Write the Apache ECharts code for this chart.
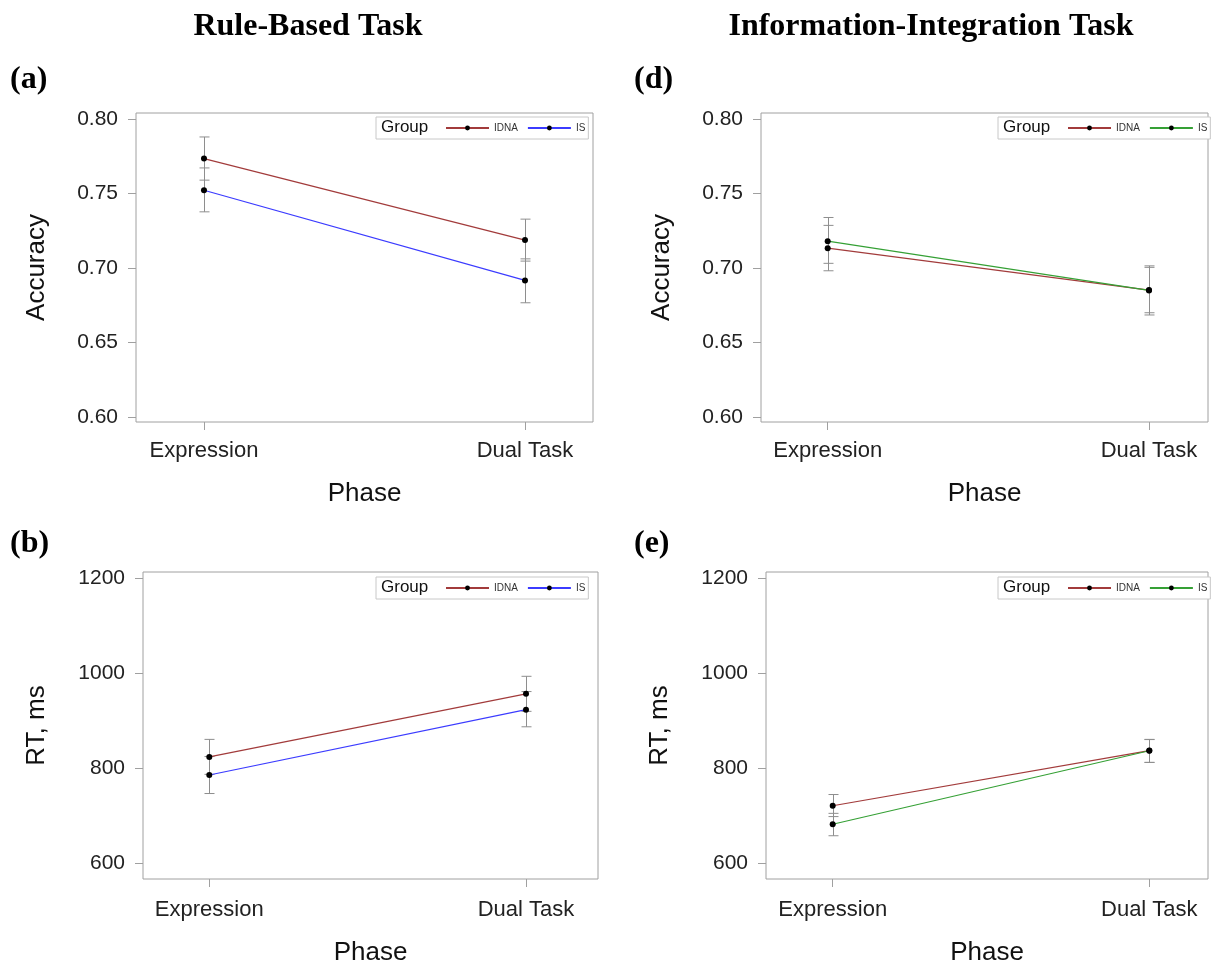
<!DOCTYPE html>
<html>
<head>
<meta charset="utf-8">
<script src="https://cdn.jsdelivr.net/npm/echarts@6/dist/echarts.min.js"></script>
<style>
html,body{margin:0;padding:0;background:#fff;}
#c{width:1214px;height:967px;}
</style>
</head>
<body>
<div id="c"></div>
<script>
// ---- Data ----
const phases = ['Expression', 'Dual Task'];
const groups = ['IDNA', 'IS'];
const accTicks = [0.60, 0.65, 0.70, 0.75, 0.80];
const rtTicks = [600, 800, 1000, 1200];

// (a) Rule-Based accuracy
const rbAccIDNA = [0.7736, 0.7188];
const rbAccIDNALo = [0.7591, 0.7047];
const rbAccIDNAHi = [0.7881, 0.7329];
const rbAccIS = [0.7523, 0.6917];
const rbAccISLo = [0.7378, 0.6767];
const rbAccISHi = [0.7673, 0.7062];

// (d) Information-Integration accuracy
const iiAccIDNA = [0.7134, 0.6852];
const iiAccIDNALo = [0.6982, 0.6700];
const iiAccIDNAHi = [0.7287, 0.7005];
const iiAccIS = [0.7181, 0.6850];
const iiAccISLo = [0.7032, 0.6685];
const iiAccISHi = [0.7340, 0.7015];

// (b) Rule-Based RT
const rbRtIDNA = [823.6, 956.3];
const rbRtIDNALo = [786.8, 919.4];
const rbRtIDNAHi = [860.4, 993.1];
const rbRtIS = [785.4, 922.9];
const rbRtISLo = [746.5, 886.9];
const rbRtISHi = [824.3, 961.0];

// (e) Information-Integration RT
const iiRtIDNA = [720.8, 836.9];
const iiRtIDNALo = [698.0, 812.0];
const iiRtIDNAHi = [744.4, 860.4];
const iiRtIS = [681.9, 836.5];
const iiRtISLo = [657.7, 811.9];
const iiRtISHi = [704.8, 860.0];

// ---- Build ----
const FONT = '"Liberation Sans", Arial, sans-serif';
const SERIF = '"Liberation Serif", "Times New Roman", serif';
const COL = {IDNA: '#A23B3B', ISb: '#3B3BFF', ISg: '#35A035'};
const FRAME = '#A0A0A0';

const panels = [
  {key:'a', grid:{left:136, top:113, width:457, height:309}, xmin:-0.2118, xmax:1.2118, ymin:0.5966, ymax:0.8042, ticks:accTicks, yname:'Accuracy', fmt:v=>v.toFixed(2),
   idna:rbAccIDNA, idnaLo:rbAccIDNALo, idnaHi:rbAccIDNAHi, is:rbAccIS, isLo:rbAccISLo, isHi:rbAccISHi, isCol:COL.ISb, legendLeft:376, legendTop:117, xLabMargin:18, xNameGap:59, yNameGap:86},
  {key:'d', grid:{left:761, top:113, width:447, height:309}, xmin:-0.2076, xmax:1.1836, ymin:0.5966, ymax:0.8042, ticks:accTicks, yname:'Accuracy', fmt:v=>v.toFixed(2),
   idna:iiAccIDNA, idnaLo:iiAccIDNALo, idnaHi:iiAccIDNAHi, is:iiAccIS, isLo:iiAccISLo, isHi:iiAccISHi, isCol:COL.ISg, legendLeft:998, legendTop:117, xLabMargin:18, xNameGap:59, yNameGap:86},
  {key:'b', grid:{left:143, top:572, width:455, height:310}, xmin:-0.2093, xmax:1.2273, ymin:566.7, ymax:1212.5, ticks:rtTicks, yname:'RT, ms', fmt:v=>String(v),
   idna:rbRtIDNA, idnaLo:rbRtIDNALo, idnaHi:rbRtIDNAHi, is:rbRtIS, isLo:rbRtISLo, isHi:rbRtISHi, isCol:COL.ISb, legendLeft:376, legendTop:577, xLabMargin:20, xNameGap:61, yNameGap:93},
  {key:'e', grid:{left:766, top:572, width:442, height:310}, xmin:-0.2107, xmax:1.1854, ymin:566.7, ymax:1212.5, ticks:rtTicks, yname:'RT, ms', fmt:v=>String(v),
   idna:iiRtIDNA, idnaLo:iiRtIDNALo, idnaHi:iiRtIDNAHi, is:iiRtIS, isLo:iiRtISLo, isHi:iiRtISHi, isCol:COL.ISg, legendLeft:998, legendTop:577, xLabMargin:20, xNameGap:61, yNameGap:93}
];

function errRender(params, api) {
  const x = api.value(0), lo = api.value(1), hi = api.value(2);
  const pLo = api.coord([x, lo]);
  const pHi = api.coord([x, hi]);
  const cx = Math.round(pLo[0]) + 0.5;
  const w = 5;
  const st = {stroke: '#8E8E8E', lineWidth: 1};
  return {type: 'group', children: [
    {type:'line', shape:{x1:cx, y1:pLo[1], x2:cx, y2:pHi[1]}, style:st},
    {type:'line', shape:{x1:cx-w, y1:pLo[1], x2:cx+w, y2:pLo[1]}, style:st},
    {type:'line', shape:{x1:cx-w, y1:pHi[1], x2:cx+w, y2:pHi[1]}, style:st}
  ]};
}

const grids = [], xAxes = [], yAxes = [], series = [], legends = [], graphics = [];

panels.forEach((p, i) => {
  grids.push(Object.assign({show:true, borderColor:FRAME, borderWidth:1, backgroundColor:'#fff'}, p.grid));
  xAxes.push({
    gridIndex:i, type:'value', min:p.xmin, max:p.xmax, position:'bottom',
    axisLine:{show:false, onZero:false}, splitLine:{show:false},
    axisTick:{show:true, customValues:[0,1], length:8, lineStyle:{color:FRAME}},
    axisLabel:{customValues:[0,1], formatter:v=>phases[Math.round(v)], fontSize:22, color:'#222', fontFamily:FONT, margin:p.xLabMargin},
    name:'Phase', nameLocation:'middle', nameGap:p.xNameGap,
    nameTextStyle:{fontSize:26, color:'#111', fontFamily:FONT}
  });
  yAxes.push({
    gridIndex:i, type:'value', min:p.ymin, max:p.ymax, position:'left',
    axisLine:{show:false, onZero:false}, splitLine:{show:false},
    axisTick:{show:true, customValues:p.ticks, length:8, lineStyle:{color:FRAME}},
    axisLabel:{customValues:p.ticks, formatter:p.fmt, fontSize:21, color:'#222', fontFamily:FONT, margin:18},
    name:p.yname, nameLocation:'middle', nameGap:p.yNameGap,
    nameTextStyle:{fontSize:26, color:'#111', fontFamily:FONT}
  });
  const mk = (arr) => arr.map((v, j) => [j, v]);
  const mkErr = (lo, hi) => lo.map((v, j) => [j, v, hi[j]]);
  series.push({type:'custom', name:'errIDNA_'+p.key, xAxisIndex:i, yAxisIndex:i, renderItem:errRender,
    encode:{x:0, y:[1,2]}, data:mkErr(p.idnaLo, p.idnaHi), z:1, silent:true});
  series.push({type:'custom', name:'errIS_'+p.key, xAxisIndex:i, yAxisIndex:i, renderItem:errRender,
    encode:{x:0, y:[1,2]}, data:mkErr(p.isLo, p.isHi), z:1, silent:true});
  series.push({type:'line', name:groups[0]+'_'+p.key, xAxisIndex:i, yAxisIndex:i, data:mk(p.idna),
    symbol:'circle', symbolSize:6, itemStyle:{color:'#000'}, lineStyle:{color:COL.IDNA, width:1.2}, z:3, animation:false});
  series.push({type:'line', name:groups[1]+'_'+p.key, xAxisIndex:i, yAxisIndex:i, data:mk(p.is),
    symbol:'circle', symbolSize:6, itemStyle:{color:'#000'}, lineStyle:{color:p.isCol, width:1.2}, z:3, animation:false});
  legends.push({
    left:p.legendLeft, top:p.legendTop, orient:'horizontal',
    data:[groups[0]+'_'+p.key, groups[1]+'_'+p.key],
    formatter:n=>n.split('_')[0], selectedMode:false,
    itemWidth:43, itemHeight:6, itemGap:9,
    padding:[6,3,6,69], borderColor:'#C8C8C8', borderWidth:1, backgroundColor:'#fff',
    textStyle:{fontSize:10, color:'#333', fontFamily:FONT}
  });
  graphics.push({type:'text', left:p.legendLeft+5, top:p.legendTop+2, z:100,
    style:{text:'Group', fontSize:17, fill:'#111', fontFamily:FONT}});
});

// Titles and panel labels
graphics.push({type:'text', x:308, y:27, style:{text:'Rule-Based Task', align:'center', verticalAlign:'middle', fontSize:32, fontWeight:'bold', fontFamily:SERIF, fill:'#000'}});
graphics.push({type:'text', x:931, y:27, style:{text:'Information-Integration Task', align:'center', verticalAlign:'middle', fontSize:32, fontWeight:'bold', fontFamily:SERIF, fill:'#000'}});
[['(a)',10,80],['(d)',634,80],['(b)',10,544],['(e)',634,544]].forEach(t => {
  graphics.push({type:'text', x:t[1], y:t[2], style:{text:t[0], align:'left', verticalAlign:'middle', fontSize:32, fontWeight:'bold', fontFamily:SERIF, fill:'#000'}});
});

const chart = echarts.init(document.getElementById('c'), null, {renderer:'canvas'});
chart.setOption({
  backgroundColor:'#fff',
  animation:false,
  grid:grids, xAxis:xAxes, yAxis:yAxes, series:series, legend:legends, graphic:graphics
});
</script>
</body>
</html>
